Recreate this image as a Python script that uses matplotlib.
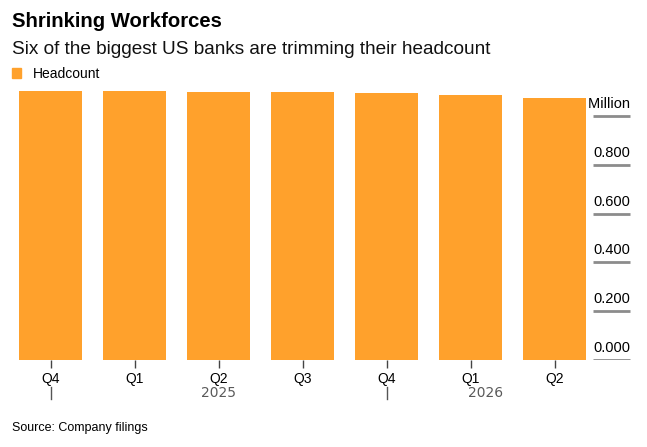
import matplotlib
matplotlib.use("Agg")
import matplotlib.pyplot as plt
from matplotlib.patches import Patch

W, H = 647, 447

quarters = ["Q4", "Q1", "Q2", "Q3", "Q4", "Q1", "Q2"]
headcount = [1.102, 1.102, 1.098, 1.098, 1.094, 1.087, 1.075]  # million
years = ["2025", "2026"]
year_pos = [2, 5.18]
year_breaks = [0, 4]
yticks = [0.0, 0.2, 0.4, 0.6, 0.8, 1.0]
ylabels = ["0.000", "0.200", "0.400", "0.600", "0.800", "1.000 Million"]

ORANGE = "#FFA12C"
plt.rcParams["font.family"] = ["Liberation Sans", "DejaVu Sans"]


def fx(px):
    return px / W


def fy(py):
    return 1 - py / H


def main():
    fig = plt.figure(figsize=(W / 100, H / 100), dpi=100)
    # axes: 10..637 px wide, 85..360 px tall (from top)
    ax = fig.add_axes([fx(10), fy(360), (637 - 10) / W, (360 - 85) / H])

    xs = list(range(len(quarters)))
    ax.bar(xs, headcount, width=0.75, color=ORANGE, zorder=3)
    ax.set_xlim((10 - 50.5) / 84, (637 - 50.5) / 84)
    ax.set_ylim(0, 275 / 244)

    for s in ax.spines.values():
        s.set_visible(False)
    ax.set_yticks([])
    ax.set_xticks(xs)
    ax.set_xticklabels(quarters, fontsize=10)
    ax.tick_params(axis="x", length=6, width=1, color="#444444", pad=3)

    # right-hand value labels with short underline
    ytr = ax.get_yaxis_transform()
    x0, x1 = (593 - 10) / 627, (630 - 10) / 627
    ax.hlines(yticks, x0, x1, transform=ytr, color="#8c8c8c", lw=2, zorder=1)
    for v, lab in zip(yticks, ylabels):
        ax.text(x1, v + 5 / 244, lab, transform=ytr, ha="right", va="bottom",
                fontsize=10.5, color="black", zorder=1)

    # year labels and separators
    xtr = ax.get_xaxis_transform()
    for p, yr in zip(year_pos, years):
        ax.text(p, -33 / 275, yr, transform=xtr, ha="center", va="center",
                fontsize=10, color="#5a5a5a", family="DejaVu Sans",
                clip_on=False)
    for b in year_breaks:
        ax.plot([b, b], [-27 / 275, -39 / 275], transform=xtr, color="#555555",
                lw=1, clip_on=False)

    fig.text(fx(12), fy(21.5), "Shrinking Workforces", fontsize=14.6,
             fontweight="bold", va="center", ha="left")
    fig.text(fx(12), fy(49), "Six of the biggest US banks are trimming their headcount",
             fontsize=13.7, va="center", ha="left", color="#111111")
    fig.legend(handles=[Patch(color=ORANGE)], labels=["Headcount"],
               loc="center left", bbox_to_anchor=(fx(6), fy(74)), frameon=False,
               fontsize=10, handlelength=0.7, handleheight=0.75,
               handletextpad=0.8, borderaxespad=0)
    fig.text(fx(12), fy(428), "Source: Company filings", fontsize=9,
             va="center", ha="left")

    fig.savefig("out.png", dpi=100)


if __name__ == "__main__":
    main()
